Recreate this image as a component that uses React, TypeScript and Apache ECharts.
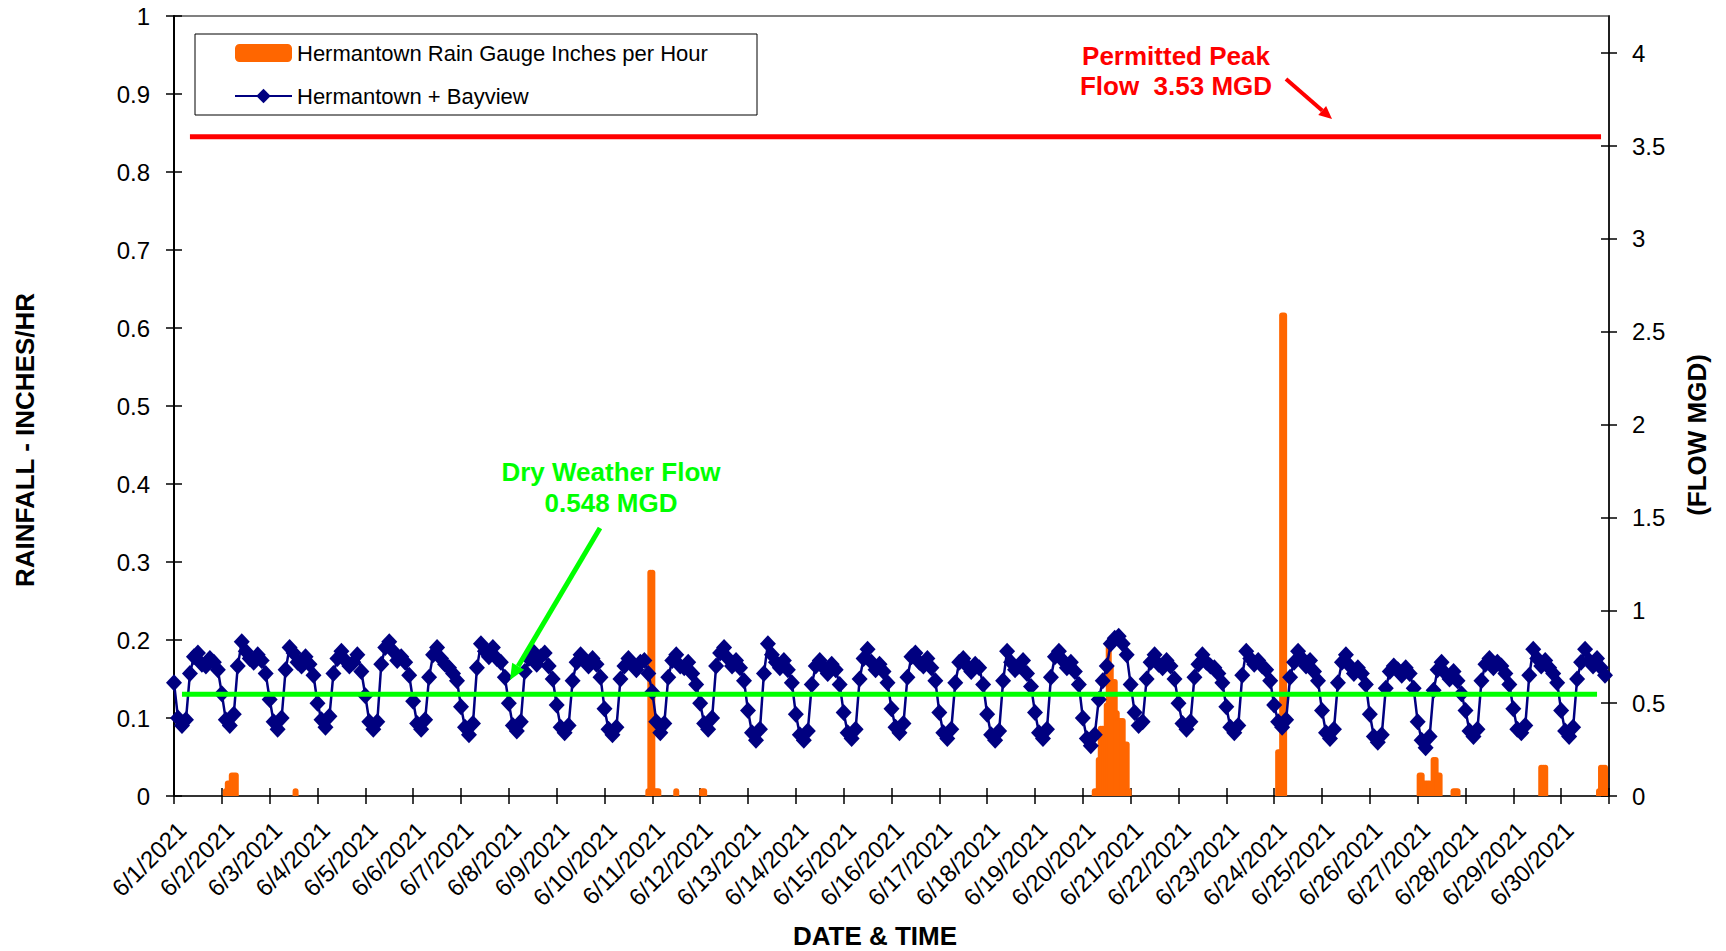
import React, { useEffect, useRef } from "react";
import * as echarts from "echarts";

// ---------- names & labels ----------
const RAIN_NAME = "Hermantown Rain Gauge Inches per Hour";
const FLOW_NAME = "Hermantown + Bayview";

const DAY_LABELS = [
  "6/1/2021", "6/2/2021", "6/3/2021", "6/4/2021", "6/5/2021", "6/6/2021",
  "6/7/2021", "6/8/2021", "6/9/2021", "6/10/2021", "6/11/2021", "6/12/2021",
  "6/13/2021", "6/14/2021", "6/15/2021", "6/16/2021", "6/17/2021", "6/18/2021",
  "6/19/2021", "6/20/2021", "6/21/2021", "6/22/2021", "6/23/2021", "6/24/2021",
  "6/25/2021", "6/26/2021", "6/27/2021", "6/28/2021", "6/29/2021", "6/30/2021",
];
const RIGHT_TICKS = [0, 0.5, 1, 1.5, 2, 2.5, 3, 3.5, 4];

// ---------- flow (MGD), one value every 2 hours from 6/1 00:00 ----------
const FLOW_STEP_HOURS = 2;
const FLOW_MGD = [
  0.61, 0.42, 0.38, 0.41, 0.66, 0.75, 0.77, 0.71, 0.70, 0.74, 0.72, 0.68,
  0.55, 0.41, 0.38, 0.44, 0.70, 0.83, 0.78, 0.74, 0.72, 0.76, 0.73, 0.66,
  0.52, 0.40, 0.36, 0.42, 0.68, 0.80, 0.77, 0.72, 0.70, 0.75, 0.71, 0.65,
  0.50, 0.41, 0.37, 0.43, 0.66, 0.74, 0.78, 0.73, 0.70, 0.72, 0.76, 0.67,
  0.54, 0.40, 0.36, 0.40, 0.71, 0.80, 0.83, 0.78, 0.73, 0.75, 0.72, 0.65,
  0.51, 0.39, 0.36, 0.41, 0.64, 0.76, 0.80, 0.74, 0.71, 0.69, 0.66, 0.62,
  0.48, 0.37, 0.33, 0.39, 0.69, 0.82, 0.78, 0.75, 0.80, 0.74, 0.72, 0.64,
  0.50, 0.38, 0.35, 0.40, 0.67, 0.74, 0.78, 0.71, 0.75, 0.77, 0.70, 0.63,
  0.49, 0.37, 0.34, 0.38, 0.62, 0.72, 0.76, 0.73, 0.70, 0.74, 0.71, 0.64,
  0.47, 0.36, 0.33, 0.37, 0.63, 0.70, 0.74, 0.71, 0.68, 0.72, 0.73, 0.66,
  0.56, 0.40, 0.34, 0.39, 0.64, 0.73, 0.76, 0.70, 0.69, 0.72, 0.66, 0.60,
  0.50, 0.39, 0.36, 0.42, 0.70, 0.77, 0.80, 0.74, 0.70, 0.73, 0.69, 0.62,
  0.46, 0.34, 0.30, 0.36, 0.66, 0.82, 0.76, 0.72, 0.69, 0.73, 0.68, 0.61,
  0.44, 0.33, 0.30, 0.35, 0.60, 0.70, 0.73, 0.69, 0.66, 0.71, 0.68, 0.60,
  0.45, 0.34, 0.31, 0.36, 0.63, 0.74, 0.79, 0.72, 0.68, 0.71, 0.67, 0.61,
  0.47, 0.37, 0.34, 0.39, 0.64, 0.75, 0.77, 0.72, 0.70, 0.74, 0.69, 0.62,
  0.45, 0.34, 0.31, 0.36, 0.61, 0.72, 0.74, 0.70, 0.67, 0.71, 0.69, 0.60,
  0.44, 0.33, 0.30, 0.35, 0.62, 0.78, 0.72, 0.68, 0.70, 0.73, 0.66, 0.59,
  0.45, 0.34, 0.31, 0.36, 0.64, 0.75, 0.78, 0.73, 0.69, 0.72, 0.67, 0.60,
  0.42, 0.31, 0.27, 0.33, 0.52, 0.62, 0.70, 0.82, 0.85, 0.86, 0.82, 0.76,
  0.60, 0.45, 0.38, 0.40, 0.63, 0.72, 0.76, 0.71, 0.69, 0.73, 0.70, 0.63,
  0.50, 0.39, 0.36, 0.40, 0.64, 0.71, 0.76, 0.72, 0.70, 0.69, 0.66, 0.61,
  0.48, 0.37, 0.34, 0.38, 0.65, 0.78, 0.74, 0.71, 0.73, 0.70, 0.68, 0.62,
  0.49, 0.40, 0.37, 0.41, 0.64, 0.72, 0.78, 0.74, 0.70, 0.73, 0.67, 0.62,
  0.46, 0.34, 0.31, 0.36, 0.61, 0.72, 0.76, 0.70, 0.66, 0.69, 0.66, 0.60,
  0.44, 0.32, 0.29, 0.33, 0.58, 0.67, 0.70, 0.68, 0.65, 0.69, 0.66, 0.58,
  0.40, 0.30, 0.26, 0.32, 0.57, 0.68, 0.72, 0.66, 0.63, 0.67, 0.62, 0.55,
  0.46, 0.35, 0.32, 0.36, 0.62, 0.71, 0.74, 0.69, 0.72, 0.70, 0.66, 0.60,
  0.47, 0.36, 0.34, 0.38, 0.65, 0.79, 0.74, 0.70, 0.73, 0.69, 0.66, 0.61,
  0.46, 0.35, 0.32, 0.37, 0.63, 0.72, 0.79, 0.73, 0.70, 0.74, 0.69, 0.65,
];

// ---------- rainfall (inches/hr), hour index from 6/1 00:00 ----------
const RAIN_HOUR = [
  26, 27, 28, 29, 30, 31,
  61,
  238, 239, 240, 241, 242, 243,
  252,
  265, 266,
  462, 463, 464, 465, 466, 467, 468, 469, 470, 471, 472, 473, 474, 475, 476, 477, 478, 479,
  554, 555, 556, 557,
  625, 626, 627, 628, 629, 630, 632, 633, 634, 635,
  642, 643, 644,
  686, 687, 688,
  715, 716, 717, 718,
];
const RAIN_INCHES = [
  0.01, 0.02, 0.02, 0.03, 0.03, 0.03,
  0.01,
  0.01, 0.29, 0.29, 0.01, 0.01, 0.01,
  0.01,
  0.01, 0.01,
  0.01, 0.01, 0.05, 0.09, 0.09, 0.09, 0.12, 0.2, 0.17, 0.15, 0.15, 0.11, 0.1, 0.1, 0.1, 0.07, 0.07, 0.01,
  0.06, 0.06, 0.62, 0.62,
  0.03, 0.03, 0.02, 0.02, 0.02, 0.02, 0.05, 0.05, 0.03, 0.03,
  0.01, 0.01, 0.01,
  0.04, 0.04, 0.04,
  0.01, 0.04, 0.04, 0.04,
];

// ---------- reference lines (MGD) ----------
const PERMITTED_PEAK = 3.55;
const PEAK_SPAN_HOURS = [8, 716];
const DRY_WEATHER = 0.548;
const DRY_SPAN_HOURS = [4, 714];

const FONT = '"Liberation Sans", Arial, Helvetica, sans-serif';
const LABEL_SHIFT_HOURS = 4;

function arrow(x1: number, y1: number, x2: number, y2: number, color: string, width: number, head: number, half: number) {
  const dx = x2 - x1, dy = y2 - y1;
  const len = Math.sqrt(dx * dx + dy * dy);
  const ux = dx / len, uy = dy / len;
  const bx = x2 - ux * head, by = y2 - uy * head;
  const px = -uy * half, py = ux * half;
  return [
    { type: "line", shape: { x1, y1, x2: bx, y2: by }, style: { stroke: color, lineWidth: width }, z: 10 },
    { type: "polygon", shape: { points: [[x2, y2], [bx + px, by + py], [bx - px, by - py]] }, style: { fill: color }, z: 10 },
  ];
}

export default function App() {
  const ref = useRef<HTMLDivElement>(null);

  useEffect(() => {
    if (!ref.current) return;
    const chart = echarts.init(ref.current, null, { renderer: "svg" });

    const flowData = FLOW_MGD.map((v, i) => [i * FLOW_STEP_HOURS, v]);
    const rainData = RAIN_HOUR.map((h, i) => [h, RAIN_INCHES[i]]);
    const xLabelPos = DAY_LABELS.map((_, i) => i * 24 + LABEL_SHIFT_HOURS);

    const tickStyle = { color: "#000", width: 1.5 };

    const option: any = {
      animation: false,
      backgroundColor: "#ffffff",
      grid: {
        left: 174, right: 117, top: 16, bottom: 155,
        show: true, borderColor: "#808080", borderWidth: 2,
        containLabel: false,
      },
      legend: {
        orient: "vertical",
        left: 234, top: 42, padding: 0, itemGap: 21,
        itemWidth: 57, itemHeight: 18,
        selectedMode: false,
        textStyle: { fontSize: 22, color: "#000", fontFamily: FONT },
        data: [{ name: RAIN_NAME, icon: "roundRect" }, { name: FLOW_NAME }],
      },
      xAxis: [
        {
          type: "value", min: 0, max: 720, interval: 24, position: "bottom",
          axisLine: { show: true, onZero: false, lineStyle: { color: "#333", width: 2 } },
          axisTick: { show: true, length: 8, lineStyle: tickStyle },
          axisLabel: {
            show: true, rotate: 45, margin: 30, fontSize: 24, color: "#000", fontFamily: FONT,
            customValues: xLabelPos,
            formatter: (v: number) => DAY_LABELS[Math.floor(v / 24)] || "",
          },
          splitLine: { show: false },
        },
        {
          type: "value", min: 0, max: 720, interval: 24, position: "bottom",
          axisLine: { show: false, onZero: false },
          axisTick: { show: true, inside: true, length: 8, lineStyle: tickStyle },
          axisLabel: { show: false },
          splitLine: { show: false },
        },
      ],
      yAxis: [
        {
          type: "value", min: 0, max: 1, interval: 0.1, position: "left",
          axisLine: { show: true, onZero: false, lineStyle: { color: "#000", width: 2 } },
          axisTick: { show: true, length: 8, lineStyle: tickStyle },
          axisLabel: { fontSize: 24, color: "#000", fontFamily: FONT, margin: 24 },
          splitLine: { show: false },
        },
        {
          type: "value", min: 0, max: 4.2, interval: 0.5, position: "right",
          axisLine: { show: true, onZero: false, lineStyle: { color: "#000", width: 1.5 } },
          axisTick: { show: true, length: 8, lineStyle: tickStyle, customValues: RIGHT_TICKS },
          axisLabel: { fontSize: 24, color: "#000", fontFamily: FONT, margin: 23, customValues: RIGHT_TICKS },
          splitLine: { show: false },
        },
        {
          type: "value", min: 0, max: 1, interval: 0.1, position: "left",
          axisLine: { show: false, onZero: false },
          axisTick: { show: true, inside: true, length: 8, lineStyle: tickStyle },
          axisLabel: { show: false },
          splitLine: { show: false },
        },
        {
          type: "value", min: 0, max: 4.2, interval: 0.5, position: "right",
          axisLine: { show: false, onZero: false },
          axisTick: { show: true, inside: true, length: 8, lineStyle: tickStyle, customValues: RIGHT_TICKS },
          axisLabel: { show: false },
          splitLine: { show: false },
        },
      ],
      series: [
        {
          name: RAIN_NAME, type: "bar", xAxisIndex: 0, yAxisIndex: 0,
          data: rainData, barWidth: 6,
          itemStyle: { color: "#FF6600", borderRadius: [3, 3, 0, 0] },
          z: 2,
        },
        {
          name: FLOW_NAME, type: "line", xAxisIndex: 0, yAxisIndex: 1,
          data: flowData, symbol: "diamond", symbolSize: [16, 17], showSymbol: true, showAllSymbol: true,
          lineStyle: { color: "#000080", width: 2.5 },
          itemStyle: { color: "#000080" },
          z: 3,
        },
        {
          name: "Permitted Peak Flow", type: "line", xAxisIndex: 0, yAxisIndex: 1,
          data: PEAK_SPAN_HOURS.map((h) => [h, PERMITTED_PEAK]),
          symbol: "none", lineStyle: { color: "#FF0000", width: 5 }, silent: true, z: 4,
        },
        {
          name: "Dry Weather Flow", type: "line", xAxisIndex: 0, yAxisIndex: 1,
          data: DRY_SPAN_HOURS.map((h) => [h, DRY_WEATHER]),
          symbol: "none", lineStyle: { color: "#00FF00", width: 5 }, silent: true, z: 4,
        },
      ],
      graphic: [
        { type: "rect", shape: { x: 195, y: 34, width: 562, height: 81 }, style: { fill: "none", stroke: "#000", lineWidth: 1 }, z: 1 },
        {
          type: "text", x: 1176, y: 71,
          style: { text: "Permitted Peak\nFlow  3.53 MGD", fill: "#FF0000", fontSize: 26, fontWeight: "bold", fontFamily: FONT, align: "center", verticalAlign: "middle", lineHeight: 30 },
          z: 10,
        },
        {
          type: "text", x: 611, y: 487,
          style: { text: "Dry Weather Flow\n0.548 MGD", fill: "#00FF00", fontSize: 26, fontWeight: "bold", fontFamily: FONT, align: "center", verticalAlign: "middle", lineHeight: 31 },
          z: 10,
        },
        ...arrow(1286, 79, 1332, 119, "#FF0000", 4, 13, 6),
        ...arrow(600, 528, 510, 680, "#00FF00", 5, 16, 7),
        {
          type: "text", x: 875, y: 936,
          style: { text: "DATE & TIME", fill: "#000", fontSize: 26, fontWeight: "bold", fontFamily: FONT, align: "center", verticalAlign: "middle" },
        },
        {
          type: "text", x: 25, y: 440, rotation: Math.PI / 2,
          style: { text: "RAINFALL - INCHES/HR", fill: "#000", fontSize: 26, fontWeight: "bold", fontFamily: FONT, align: "center", verticalAlign: "middle" },
        },
        {
          type: "text", x: 1697, y: 435, rotation: Math.PI / 2,
          style: { text: "(FLOW MGD)", fill: "#000", fontSize: 26, fontWeight: "bold", fontFamily: FONT, align: "center", verticalAlign: "middle" },
        },
      ],
    };

    chart.setOption(option);
    return () => chart.dispose();
  }, []);

  return (
    <div
      ref={ref}
      style={{ position: "fixed", left: 0, top: 0, width: "1726px", height: "951px", background: "#fff" }}
    />
  );
}
